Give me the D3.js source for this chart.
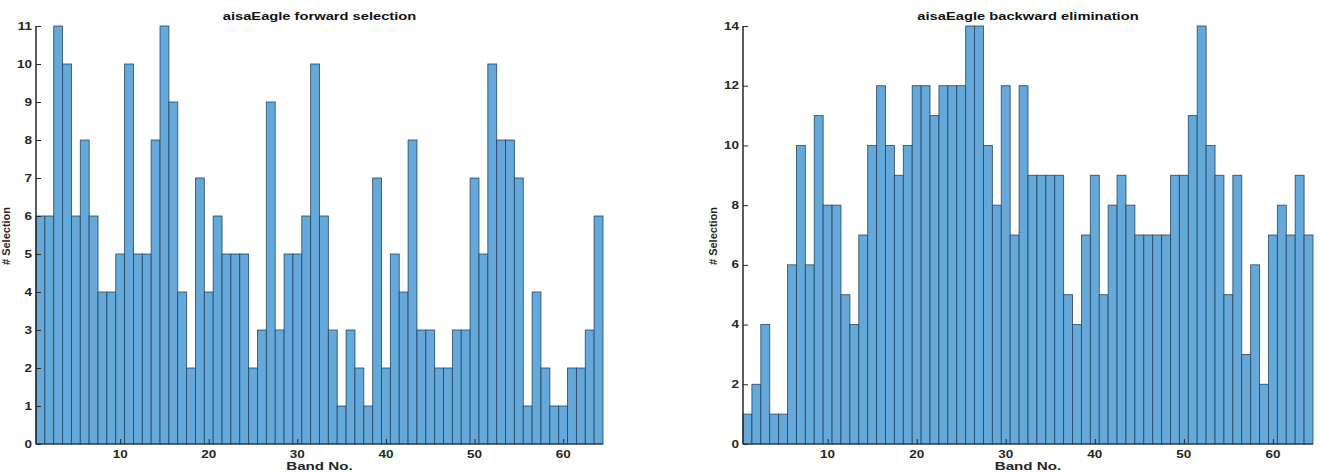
<!DOCTYPE html>
<html>
<head>
<meta charset="utf-8">
<script src="https://cdn.jsdelivr.net/npm/d3@7"></script>
<style>
  body { margin: 0; background: #fff; }
  text { font-family: "Liberation Sans", Arial, Helvetica, sans-serif; fill: #262626; }
</style>
</head>
<body>
<svg id="chart" width="1320" height="473"></svg>
<script>
// band counts, 64 bands each
var forward_counts = [6,6,11,10,6,8,6,4,4,5, 10,5,5,8,11,9,4,2,7,4, 6,5,5,5,2,3,9,3,5,5,
                      6,10,6,3,1,3,2,1,7,2, 5,4,8,3,3,2,2,3,3,7, 5,10,8,8,7,1,4,2,1,1, 2,2,3,6]
var backward_counts = [1,2,4,1,1,6,10,6,11,8, 8,5,4,7,10,12,10,9,10,12, 12,11,12,12,12,14,14,10,8,12,
                       7,12,9,9,9,9,5,4,7,9, 5,8,9,8,7,7,7,7,9,9, 11,14,10,9,5,9,3,6,2,7, 8,7,9,7]
var x_ticks = [10,20,30,40,50,60]
var forward_y_ticks = [0,1,2,3,4,5,6,7,8,9,10,11]
var backward_y_ticks = [0,2,4,6,8,10,12,14]
var titles = ['aisaEagle forward selection', 'aisaEagle backward elimination']

var svg = d3.select('#chart')
var bar_fill = '#64a9d9'
var bar_edge = '#22405c'
var axis_color = '#262626'
var tick_len = 5
// the reference looks stretched sideways, so text gets widened a bit
var stretch = 1.35

// put a text at (x,y), widened horizontally around its anchor
function wide_text(parent, x, y, str, anchor, size, sx) {
    return parent.append('g')
        .attr('transform', 'translate(' + x + ',' + y + ') scale(' + sx + ',1)')
        .append('text')
            .attr('text-anchor', anchor)
            .style('font-size', size + 'px')
            .style('font-weight', 'bold')
            .text(str)
}

function draw_hist(counts, y_ticks, y_max, title, left, right, top, bottom) {
    var g = svg.append('g')
    var x = d3.scaleLinear().domain([0.5, counts.length + 0.5]).range([left, right])
    var y = d3.scaleLinear().domain([0, y_max]).range([bottom, top])

    g.selectAll('rect.bar')
        .data(counts)
        .enter().append('rect')
            .attr('class', 'bar')
            .attr('x', function(d, i) { return x(i + 0.5) })
            .attr('width', function(d, i) { return x(i + 1.5) - x(i + 0.5) })
            .attr('y', function(d) { return y(d) })
            .attr('height', function(d) { return y(0) - y(d) })
            .style('fill', bar_fill)
            .style('stroke', bar_edge)
            .style('stroke-opacity', 0.85)
            .style('stroke-width', 0.9)

    // axes: ticks point inward like matlab
    var y_axis = g.append('g')
        .attr('transform', 'translate(' + left + ',0)')
        .call(d3.axisRight(y).tickValues(y_ticks).tickSize(tick_len).tickFormat(''))
    y_axis.selectAll('line').style('stroke', axis_color)
    y_axis.select('.domain').style('stroke', axis_color).style('stroke-width', 1.5)
        .attr('d', 'M0,' + bottom + 'V' + top)

    y_ticks.forEach(function(d) {
        wide_text(g, left - 4, y(d) + 3.5, d, 'end', 10, stretch)
    })

    var x_axis = g.append('g')
        .attr('transform', 'translate(0,' + bottom + ')')
        .call(d3.axisTop(x).tickValues(x_ticks).tickSize(tick_len).tickFormat(''))
    x_axis.selectAll('line').style('stroke', axis_color)
    x_axis.select('.domain').style('stroke', axis_color).style('stroke-width', 1.2)
        .attr('d', 'M' + left + ',0H' + right)

    x_ticks.forEach(function(d) {
        wide_text(g, x(d), bottom + 14, d, 'middle', 10, stretch)
    })

    wide_text(g, (left + right) / 2, 20, title, 'middle', 10, 1.47).style('fill', '#111')

    wide_text(g, (left + right) / 2, bottom + 26, 'Band No.', 'middle', 11, 1.38)

    g.append('text')
        .attr('transform', 'translate(' + (left - 26) + ',' + ((top + bottom) / 2 + 1) + ') rotate(-90)')
        .attr('text-anchor', 'middle')
        .style('font-size', '11px')
        .style('font-weight', 'bold')
        .text('# Selection')
}

draw_hist(forward_counts, forward_y_ticks, 11, titles[0], 36, 603, 26, 444)
draw_hist(backward_counts, backward_y_ticks, 14, titles[1], 743, 1313, 26, 444)
</script>
</body>
</html>
